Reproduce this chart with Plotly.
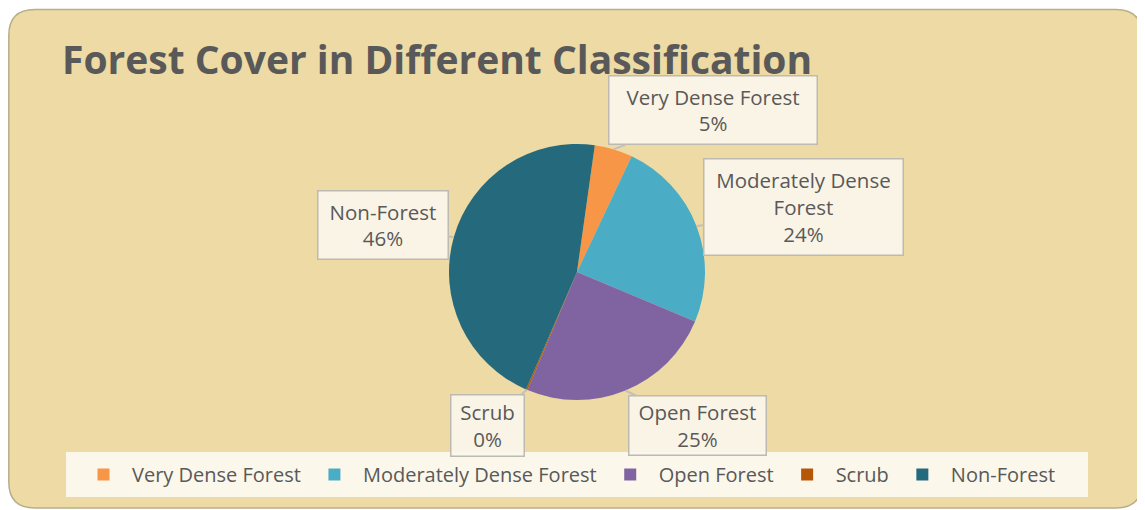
import math
import plotly.graph_objects as go

# ---- data ----
categories = ["Very Dense Forest", "Moderately Dense Forest", "Open Forest", "Scrub", "Non-Forest"]
shares = [4.8, 24.3, 25.0, 0.2, 45.7]
colors = ["#F79646", "#4BACC6", "#8064A2", "#B65708", "#256A7C"]
callout_names = ["Very Dense Forest", "Moderately Dense<br>Forest", "Open Forest", "Scrub", "Non-Forest"]
title_text = "Forest Cover in Different Classification"

# ---- layout constants (screen pixels; page body has an 8px margin) ----
OFF = 8
W, H = 1137, 502
CX, CY, R = 577, 272, 128
ROT = 8
FONT = "Open Sans"
TXT = "#595959"

# callout boxes: (offset of box centre from tip in px, width, height)
boxes = [
    (99, -39, 207, 67),
    (107, -19, 198, 95),
    (72, 35, 136, 58),
    (-39, 36, 72, 60),
    (-71, -12, 129, 67),
]


def px(x):
    return (x - OFF) / W


def py(y):
    return 1 - (y - OFF) / H


fig = go.Figure(
    go.Pie(
        labels=categories,
        values=shares,
        sort=False,
        direction="clockwise",
        rotation=ROT,
        textinfo="none",
        hoverinfo="label+percent",
        marker=dict(colors=colors, line=dict(width=0)),
        domain=dict(x=[px(CX - R), px(CX + R)], y=[py(CY + R), py(CY - R)]),
    )
)

# callouts, anchored at slice mid-angles computed from the data
total = sum(shares)
start = ROT
annotations = []
for name, v, (dx, dy, bw, bh) in zip(callout_names, shares, boxes):
    ang = start + 360 * v / total / 2
    start += 360 * v / total
    a = math.radians(ang)
    tx = CX + R * math.sin(a)
    ty = CY - R * math.cos(a)
    pct = round(100 * v / total)
    annotations.append(dict(
        x=px(tx), y=py(ty), xref="paper", yref="paper",
        ax=dx, ay=dy, axref="pixel", ayref="pixel",
        text=f"{name}<br>{pct}%",
        showarrow=True, arrowhead=0, arrowwidth=2, arrowcolor="#C4C0B6",
        standoff=0, startstandoff=0,
        bgcolor="rgba(250,246,236,0.92)", bordercolor="#BDBAB2", borderwidth=1.5,
        borderpad=0, width=bw, height=bh, align="center", valign="middle",
        font=dict(family=FONT, size=20.5, color=TXT),
    ))


def rounded_rect(x0, y0, x1, y1, r):
    pts = [
        ("M", (x0 + r, y0)), ("L", (x1 - r, y0)), ("Q", (x1, y0), (x1, y0 + r)),
        ("L", (x1, y1 - r)), ("Q", (x1, y1), (x1 - r, y1)), ("L", (x0 + r, y1)),
        ("Q", (x0, y1), (x0, y1 - r)), ("L", (x0, y0 + r)), ("Q", (x0, y0), (x0 + r, y0)),
    ]
    s = ""
    for p in pts:
        cmd = p[0]
        coords = " ".join(f"{px(x):.5f},{py(y):.5f}" for x, y in p[1:])
        s += f"{cmd}{coords} "
    return s + "Z"


shapes = [
    dict(type="path", xref="paper", yref="paper", path=rounded_rect(8.8, 9.5, 1142, 508, 26),
         fillcolor="#EDDAA4", line=dict(color="#B7AF8A", width=1.5), layer="below"),
    dict(type="rect", xref="paper", yref="paper", x0=px(66), x1=px(1088), y0=py(497), y1=py(452),
         fillcolor="rgba(255,255,255,0.78)", line=dict(width=0), layer="above"),
]

fig.update_layout(
    width=W, height=H, autosize=False,
    margin=dict(l=0, r=0, t=0, b=0),
    paper_bgcolor="white", plot_bgcolor="rgba(0,0,0,0)",
    title=dict(text=f"<b>{title_text}</b>", x=px(62), xanchor="left", xref="paper",
               y=py(60), yanchor="middle", yref="paper",
               font=dict(family=FONT, size=39, color=TXT)),
    showlegend=True,
    legend=dict(orientation="h", x=px(75), xanchor="left", y=py(474.5), yanchor="middle",
                bgcolor="rgba(0,0,0,0)", itemwidth=47,
                font=dict(family=FONT, size=20, color=TXT)),
    shapes=shapes,
    annotations=annotations,
)

fig.write_html("out.html")
